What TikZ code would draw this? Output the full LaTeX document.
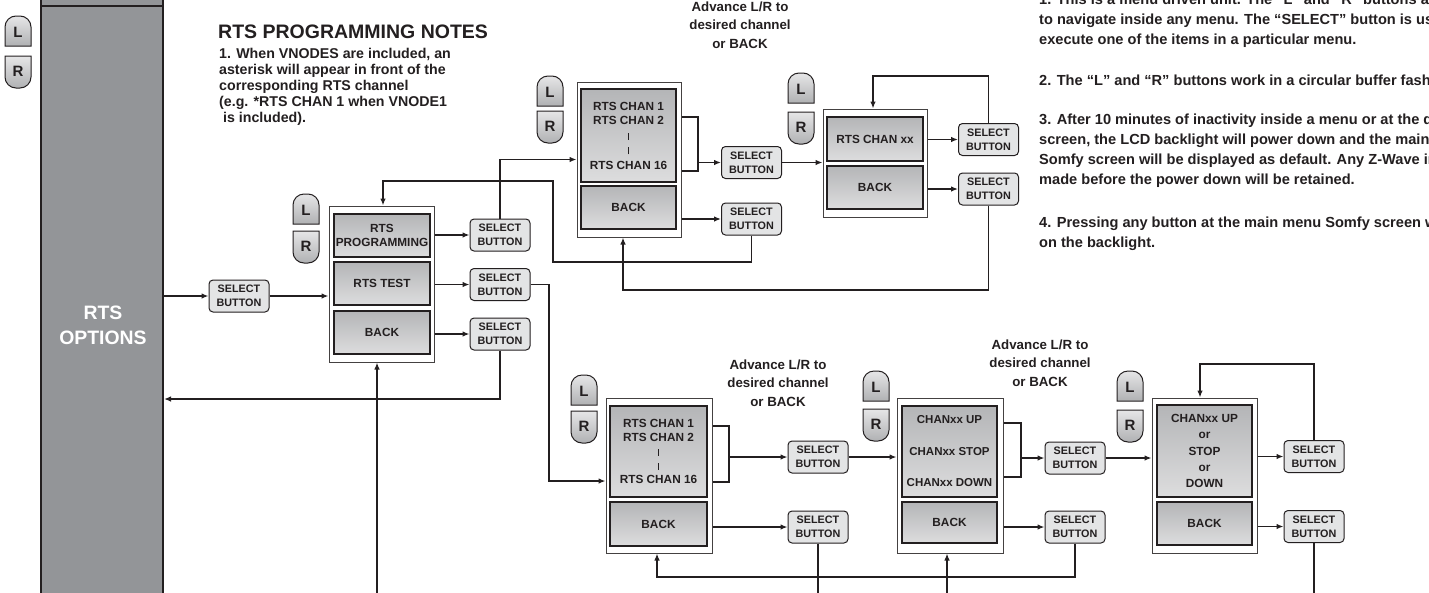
\documentclass[tikz,border=0pt]{standalone}
\usepackage{fontspec}
\setmainfont{Liberation Sans}
\usetikzlibrary{arrows.meta,calc}
\definecolor{dk}{HTML}{231F20}
\definecolor{panelgray}{HTML}{939598}
\definecolor{selfill}{HTML}{E3E4E5}
\definecolor{itemtop}{HTML}{B4B5B7}
\definecolor{itembot}{HTML}{DDDDDE}
\definecolor{btntop}{HTML}{E6E6E7}
\definecolor{btnbot}{HTML}{B0B1B3}
\newcommand\fs[2]{\fontsize{#1}{#2}\selectfont\bfseries}
\newcommand\vbar{\rule{1.1pt}{7pt}}
\newcommand\lrpair[4]{%
  \path[lrbtn] (#2,#3+30) -- (#2,#3+11) arc (180:270:11) -- (#2+15,#3) arc (270:360:11) -- (#2+26,#3+30) -- cycle;
  \node[lrtxt] (#1L) at (#2+13,#3+16) {L};
  \path[lrbtn] (#2,#4) -- (#2+26,#4) -- (#2+26,#4+21) arc (0:90:11) -- (#2+11,#4+32) arc (90:180:11) -- cycle;
  \node[lrtxt] (#1R) at (#2+13,#4+15) {R};
}
\begin{document}
\begin{tikzpicture}[x=1pt,y=-1pt,
  conn/.style={draw=dk,line width=1.3pt},
  arr/.style={conn,-{Latex[length=7pt,width=5.5pt]}},
  item/.style={draw=dk,line width=1.3pt,top color=itemtop,bottom color=itembot,minimum width=96pt,minimum height=43pt,inner sep=0pt,align=center,text=dk,font=\fs{11.8}{14.3}},
  outerbox/.style={draw=dk!85,line width=1pt,fill=white,inner sep=0pt},
  selbtn/.style={draw=dk,line width=1pt,fill=selfill,rounded corners=4pt,minimum width=60pt,minimum height=32pt,inner sep=0pt,align=center,text=dk,font=\fs{10.8}{14}},
  lrbtn/.style={draw=dk,line width=1pt,top color=btntop,bottom color=btnbot},
  lrtxt/.style={font=\fs{15}{15},inner sep=0pt,text=dk},
  adv/.style={align=center,font=\fs{13.3}{18.5},inner sep=0pt,text=dk},
  note/.style={align=left,inner sep=0pt,text=dk,anchor=west},
]
\useasboundingbox (0,0) rectangle (1429,592);
\clip (0,0) rectangle (1429,592);
\fill[white] (0,0) rectangle (1429,592);

% left panel
\node[draw=dk,line width=2pt,fill=panelgray,minimum width=122pt,minimum height=640pt,inner sep=0pt] (panel) at (102,300) {};
\draw[dk,line width=2pt] (41,6) -- (163,6);
\node[font=\fs{19.4}{25},text=white,align=center,inner sep=0pt] (opt) at (103,325) {RTS\\OPTIONS};
\lrpair{lp}{5}{16}{56}

% notes left
\node[anchor=base west,font=\fs{19.5}{20},inner sep=0pt,text=dk] (title) at (218,38) {RTS PROGRAMMING NOTES};
\node[note,font=\fs{14.2}{16}] (lnote) at (219,87) {1. When VNODES are included, an\\asterisk will appear in front of the\\corresponding RTS channel\\(e.g. *RTS CHAN 1 when VNODE1\\\hspace*{4pt}is included).};

% notes right (cut by the right edge, as in the original)
\node[note,font=\fs{14.6}{20}] (n1) at (1039,20.7) {1. This is a menu driven unit. The “L” and “R” buttons are used\\to navigate inside any menu. The “SELECT” button is used to\\execute one of the items in a particular menu.};
\node[note,font=\fs{14.6}{20}] (n2) at (1039,80.7) {2. The “L” and “R” buttons work in a circular buffer fashion.};
\node[note,font=\fs{14.6}{20}] (n3) at (1039,150.7) {3. After 10 minutes of inactivity inside a menu or at the default\\screen, the LCD backlight will power down and the main menu\\Somfy screen will be displayed as default. Any Z-Wave inputs\\made before the power down will be retained.};
\node[note,font=\fs{14.6}{20}] (n4) at (1039,233.3) {4. Pressing any button at the main menu Somfy screen will turn\\on the backlight.};

% main menu
\node[selbtn] (sb0) at (239,296) {SELECT\\BUTTON};
\node[outerbox,minimum width=105pt,minimum height=156pt] (mm) at (381.5,284) {};
\node[item] (mp) at (382,235.5) {RTS\\PROGRAMMING};
\node[item] (mt) at (382,283.5) {RTS TEST};
\node[item] (mb) at (382,332.5) {BACK};
\node[selbtn] (s1) at (500,235) {SELECT\\BUTTON};
\node[selbtn] (s2) at (500,284.5) {SELECT\\BUTTON};
\node[selbtn] (s3) at (500,334) {SELECT\\BUTTON};
\lrpair{mm}{293}{194}{231}

% top box 1
\node[adv] (adv1) at (740,25) {Advance L/R to\\desired channel\\or BACK};
\node[outerbox,minimum width=104pt,minimum height=155pt] (tb1) at (629,159.5) {};
\node[item,minimum width=95pt,minimum height=93pt,font=\fs{11.8}{14.75}] (tc1) at (628.5,135.5) {RTS CHAN 1\\RTS CHAN 2\\\vbar\\\vbar\\RTS CHAN 16};
\node[item,minimum width=95pt] (tk1) at (628.5,207.5) {BACK};
\node[selbtn] (ts1) at (751.5,162.5) {SELECT\\BUTTON};
\node[selbtn] (ts2) at (751.5,219) {SELECT\\BUTTON};
\lrpair{ta}{537}{76}{111}

% top box 2
\node[outerbox,minimum width=104pt,minimum height=108pt] (tb2) at (875,163) {};
\node[item,minimum height=44pt] (tx2) at (875,139) {RTS CHAN xx};
\node[item] (tk2) at (875,187.5) {BACK};
\node[selbtn] (ts3) at (988.5,139.5) {SELECT\\BUTTON};
\node[selbtn] (ts4) at (988.5,189) {SELECT\\BUTTON};
\lrpair{tb}{788}{73}{112}

% bottom box 1
\node[adv] (adv2) at (778,383) {Advance L/R to\\desired channel\\or BACK};
\node[outerbox,minimum width=106pt,minimum height=155pt] (bb1) at (659,475.5) {};
\node[item,minimum width=97pt,minimum height=91pt,font=\fs{11.8}{14}] (bc1) at (658.5,451.5) {RTS CHAN 1\\RTS CHAN 2\\\vbar\\\vbar\\RTS CHAN 16};
\node[item,minimum width=97pt,minimum height=44pt] (bk1) at (658.5,524) {BACK};
\node[selbtn] (bs1) at (818,457) {SELECT\\BUTTON};
\node[selbtn] (bs2) at (818,527) {SELECT\\BUTTON};
\lrpair{ba}{571}{375}{411}

% bottom box 2
\node[adv] (adv3) at (1040,363) {Advance L/R to\\desired channel\\or BACK};
\node[outerbox,minimum width=106pt,minimum height=155pt] (bb2) at (950,475.5) {};
\node[item,minimum width=95pt,minimum height=91pt,font=\fs{11.5}{31.5}] (bc2) at (949.5,451.5) {CHANxx UP\\CHANxx STOP\\CHANxx DOWN};
\node[item,minimum width=95pt,minimum height=41pt] (bk2) at (949.5,522.5) {BACK};
\node[selbtn] (bs3) at (1075,458) {SELECT\\BUTTON};
\node[selbtn] (bs4) at (1075,527) {SELECT\\BUTTON};
\lrpair{bb}{863}{371}{409}

% bottom box 3
\node[outerbox,minimum width=105pt,minimum height=155pt] (bb3) at (1204.5,475.5) {};
\node[item,minimum width=95pt,minimum height=92pt,font=\fs{11.8}{16.2}] (bc3) at (1204.5,451) {CHANxx UP\\or\\STOP\\or\\DOWN};
\node[item,minimum width=95pt] (bk3) at (1204.5,523.5) {BACK};
\node[selbtn] (bs5) at (1314,456.5) {SELECT\\BUTTON};
\node[selbtn] (bs6) at (1314,526.5) {SELECT\\BUTTON};
\lrpair{bc}{1117}{371}{410}

% connectors: main
\draw[arr] (panel.east |- sb0.west) -- (sb0.west);
\draw[arr] (sb0.east) -- (mm.west |- sb0.east);
\draw[arr] (mm.east |- s1.west) -- (s1.west);
\draw[arr] (mm.east |- s2.west) -- (s2.west);
\draw[arr] (mm.east |- s3.west) -- (s3.west);
\draw[arr] (s1.north) |- (tb1.west);
\draw[arr] (ts2.south) |- (553,262) |- (383,181) -- (mm.north -| 383,0);
\draw[arr] (s2.east) -| (549,481) -- (bb1.west |- 0,481);
\draw[arr] (s3.south) |- (panel.east |- 0,399);

% connectors: top
\draw[conn] (tb1.east |- 0,117) -| (698,171) -- (tb1.east |- 0,171);
\draw[arr] (698,0 |- ts1.west) -- (ts1.west);
\draw[arr] (tb1.east |- ts2.west) -- (ts2.west);
\draw[arr] (ts1.east) -- (tb2.west |- ts1.east);
\draw[arr] (tb2.east |- ts3.west) -- (ts3.west);
\draw[arr] (tb2.east |- ts4.west) -- (ts4.west);
\draw[arr] (ts3.north) |- (873,76) -- (tb2.north -| 873,0);
\draw[arr] (ts4.south) |- (623,290) -- (tb1.south -| 623,0);

% connectors: bottom
\draw[conn] (bb1.east |- 0,426) -| (729,482) -- (bb1.east |- 0,482);
\draw[arr] (729,0 |- bs1.west) -- (bs1.west);
\draw[arr] (bb1.east |- bs2.west) -- (bs2.west);
\draw[arr] (bs1.east) -- (bb2.west |- bs1.east);
\draw[conn] (bb2.east |- 0,423) -| (1021,477) -- (bb2.east |- 0,477);
\draw[arr] (1021,0 |- bs3.west) -- (bs3.west);
\draw[arr] (bb2.east |- bs4.west) -- (bs4.west);
\draw[arr] (bs3.east) -- (bb3.west |- bs3.east);
\draw[arr] (bb3.east |- bs5.west) -- (bs5.west);
\draw[arr] (bb3.east |- bs6.west) -- (bs6.west);
\draw[arr] (bs5.north) |- (1200,364) -- (bb3.north -| 1200,0);
\draw[arr] (bs4.south) |- (657,577) -- (bb1.south -| 657,0);
\draw[arr] (bs6.south) |- (947,610) -- (bb2.south -| 947,0);
\draw[arr] (bs2.south) |- (377,620) -- (mm.south -| 377,0);
\end{tikzpicture}
\end{document}
